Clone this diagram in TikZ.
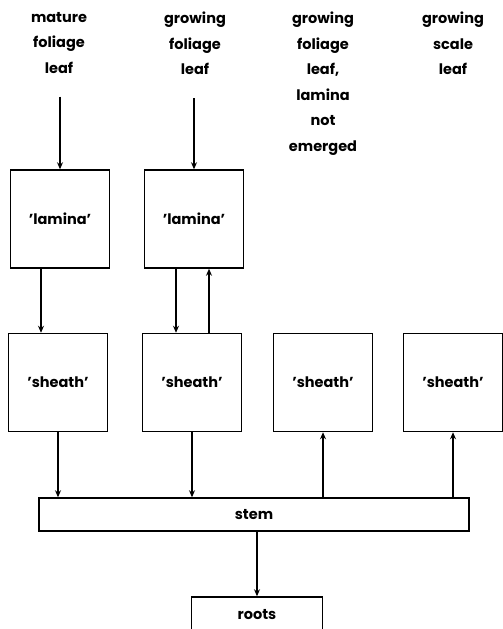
\documentclass[tikz,border=0pt]{standalone}
\usepackage{fontspec}
\setmainfont{Poppins}
\usetikzlibrary{positioning, arrows.meta}

\tikzset{
  part/.style={draw, line width=1.5pt, minimum width=99pt, minimum height=98pt, inner sep=0pt},
  bar/.style={draw, line width=1.5pt, inner sep=0pt},
  leafname/.style={align=center, anchor=north, inner sep=0pt},
  arr/.style={-{Stealth[length=7pt,width=6pt]}, line width=1.3pt}
}

\begin{document}
\begin{tikzpicture}[x=1pt, y=-1pt, font=\fontsize{14.5}{25.5}\selectfont\bfseries]
    \useasboundingbox (0,0) rectangle (503,629);
    % leaf labels
    \node[leafname] (lblA) at (59,12) {mature\\foliage\\leaf};
    \node[leafname] (lblB) at (195,12) {growing\\foliage\\leaf};
    \node[leafname] (lblC) at (323,12) {growing\\foliage\\leaf,\\lamina\\not\\emerged};
    \node[leafname] (lblD) at (453,12) {growing\\scale\\leaf};
    % lamina and sheath boxes
    \node[part] (lamA) at (60,219) {'lamina'};
    \node[part] (lamB) at (194,219) {'lamina'};
    \foreach \x/\n in {58/A, 192/B, 323/C, 453/D}
        \node[part] (sh\n) at (\x,382.5) {'sheath'};
    \node[bar, minimum width=430pt, minimum height=33pt] (stem) at (254,514.5) {stem};
    \node[bar, minimum width=131pt, minimum height=36pt] (roots) at (257,615) {roots};
    % connectors
    \draw[arr, shorten <=23pt] (lamA.north |- lblA.south) -- (lamA.north);
    \draw[arr, shorten <=23pt] (lamB.north |- lblB.south) -- (lamB.north);
    \draw[arr] ([xshift=-19pt]lamA.south) -- ([xshift=-17pt]shA.north);
    \draw[arr] ([xshift=-18pt]lamB.south) -- ([xshift=-16pt]shB.north);
    \draw[arr] ([xshift=17pt]shB.north) -- ([xshift=15pt]lamB.south);
    \draw[arr] (shA.south) -- (shA.south |- stem.north);
    \draw[arr] (shB.south) -- (shB.south |- stem.north);
    \draw[arr] (shC.south |- stem.north) -- (shC.south);
    \draw[arr] (shD.south |- stem.north) -- (shD.south);
    \draw[arr] (roots.north |- stem.south) -- (roots.north);
\end{tikzpicture}
\end{document}
